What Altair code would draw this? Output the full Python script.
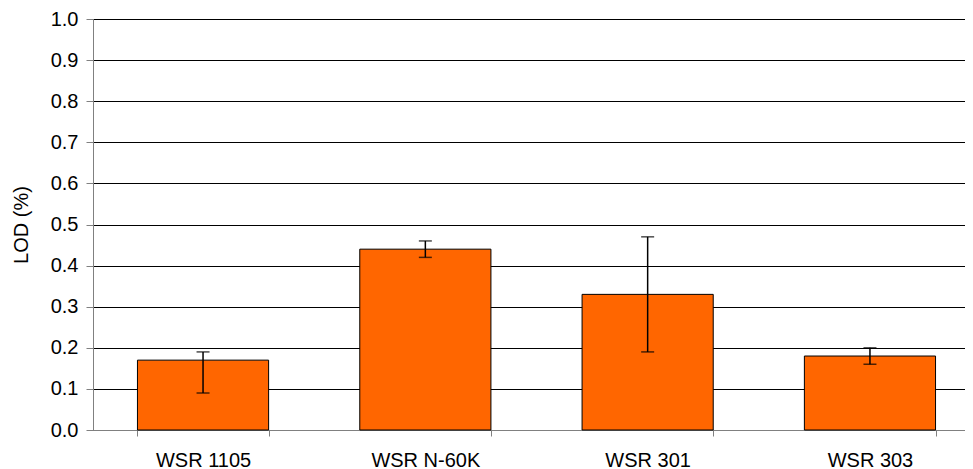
import altair as alt
import pandas as pd

categories = ["WSR 1105", "WSR N-60K", "WSR 301", "WSR 303"]
lod = [0.17, 0.44, 0.33, 0.18]
err_low = [0.09, 0.42, 0.19, 0.16]
err_high = [0.19, 0.46, 0.47, 0.20]

df = pd.DataFrame({"cat": categories, "lod": lod, "lo": err_low, "hi": err_high})

FONT = "Liberation Sans"

x = alt.X("cat:N", sort=categories, title=None,
          scale=alt.Scale(paddingInner=0.41, paddingOuter=0.2),
          axis=alt.Axis(labelAngle=0, tickBand="extent", labelFontSize=20,
                        labelFont=FONT, labelColor="black", labelPadding=14,
                        domainColor="#808080", tickColor="#808080", tickSize=6,
                        grid=False))

y_scale = alt.Scale(domain=[0, 1], nice=False)

bars = alt.Chart(df).mark_bar(color="#FF6600", stroke="black", strokeWidth=1).encode(
    x=x,
    y=alt.Y("lod:Q", scale=y_scale, title="LOD (%)",
            axis=alt.Axis(values=[i / 10 for i in range(11)], format=".1f",
                          labelFontSize=20, labelFont=FONT, labelColor="black",
                          labelPadding=8, titleFont=FONT, titleFontSize=20,
                          titleFontWeight="normal", titleColor="black", titlePadding=19,
                          domainColor="#808080", tickColor="#808080", tickSize=7,
                          grid=True, gridColor="black", gridWidth=1, gridOpacity=1)),
)

rules = alt.Chart(df).mark_rule(color="black", strokeWidth=1.5).encode(
    x=alt.X("cat:N", sort=categories),
    y=alt.Y("lo:Q", scale=y_scale),
    y2="hi:Q",
)

cap_hi = alt.Chart(df).mark_tick(color="black", thickness=1.5, size=13, orient="horizontal").encode(
    x=alt.X("cat:N", sort=categories),
    y=alt.Y("hi:Q", scale=y_scale),
)
cap_lo = alt.Chart(df).mark_tick(color="black", thickness=1.5, size=13, orient="horizontal").encode(
    x=alt.X("cat:N", sort=categories),
    y=alt.Y("lo:Q", scale=y_scale),
)

chart = alt.layer(bars, rules, cap_hi, cap_lo).properties(
    width=887, height=411,
    autosize=alt.AutoSizeParams(type="none"),
    padding={"left": 85, "top": 11, "right": -15, "bottom": 40},
).configure_view(stroke=None).configure(background="white")

chart.save("out.html", embed_options={"renderer": "svg", "actions": False})
